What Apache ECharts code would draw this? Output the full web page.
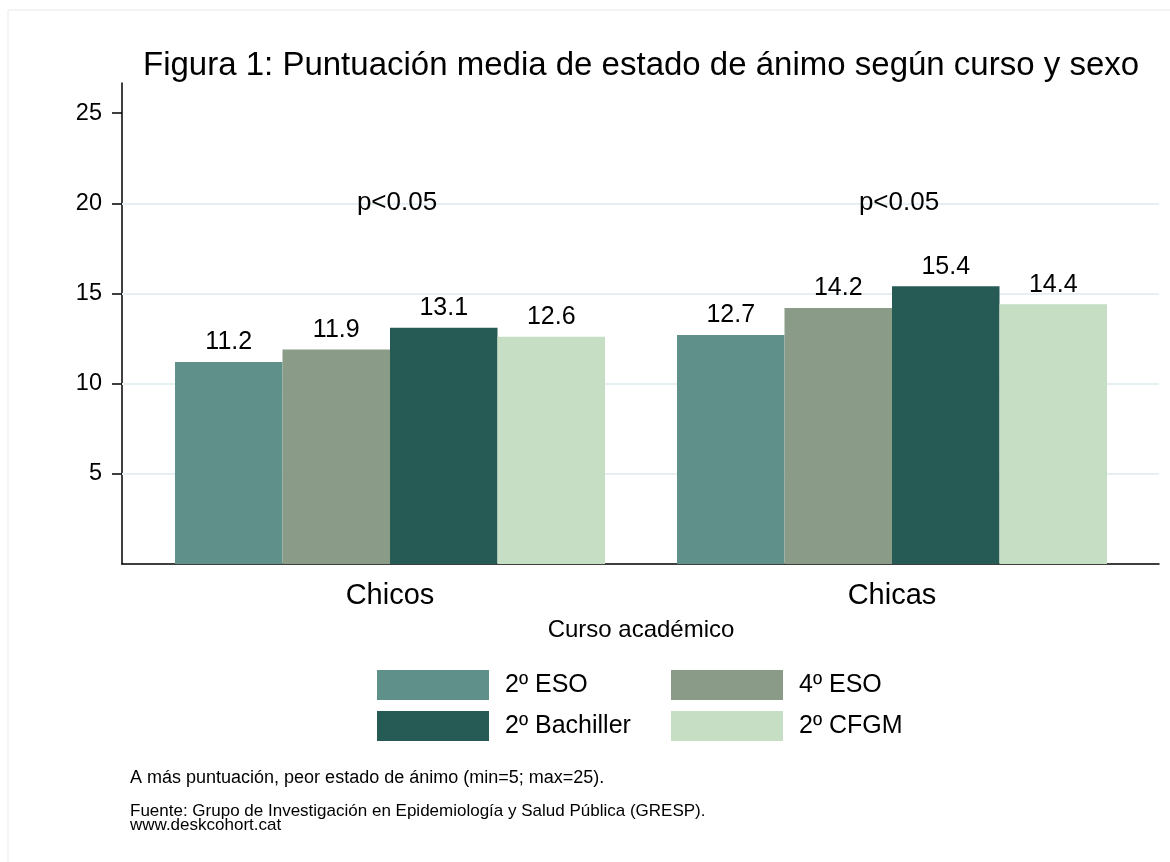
<!DOCTYPE html>
<html>
<head>
<meta charset="utf-8">
<script src="https://cdn.jsdelivr.net/npm/echarts@6/dist/echarts.min.js"></script>
<style>
html,body{margin:0;padding:0;background:#fff;}
#chart{width:1170px;height:862px;}
</style>
</head>
<body>
<div id="chart"></div>
<script>
// ---- data ----
var categories = ['Chicos', 'Chicas'];
var seriesNames = ['2º ESO', '4º ESO', '2º Bachiller', '2º CFGM'];
var eso2 = [11.2, 12.7];
var eso4 = [11.9, 14.2];
var bach2 = [13.1, 15.4];
var cfgm2 = [12.6, 14.4];
var pLabels = ['p<0.05', 'p<0.05'];
var pLevel = 20;
var yTicks = [5, 10, 15, 20, 25];
var gridValues = [5, 10, 15, 20];
var yMax = 26.67;
var titleText = 'Figura 1: Puntuación media de estado de ánimo según curso y sexo';
var xTitle = 'Curso académico';
var note1 = 'A más puntuación, peor estado de ánimo (min=5; max=25).';
var note2 = 'Fuente: Grupo de Investigación en Epidemiología y Salud Pública (GRESP).\nwww.deskcohort.cat';

var colors = ['#5f9089', '#8a9c88', '#265b55', '#c5dec4'];
var FONT = "'Liberation Sans', Arial, sans-serif";

var chart = echarts.init(document.getElementById('chart'), null, {renderer: 'canvas'});

function barSeries(name, data, color) {
  return {
    name: name, type: 'bar', xAxisIndex: 0, yAxisIndex: 0,
    data: data, barGap: '0%', barCategoryGap: '14.34%', z: 3,
    itemStyle: {color: color},
    label: {show: true, position: 'top', distance: 7, fontSize: 25, color: '#000', fontFamily: FONT,
      formatter: function (p) { return p.value.toFixed(1); }},
    emphasis: {disabled: true}
  };
}

var option = {
  animation: false,
  backgroundColor: '#fff',
  textStyle: {fontFamily: FONT},
  title: [
    {text: titleText, left: 138, top: 44, textStyle: {fontSize: 33, fontWeight: 'normal', color: '#000', fontFamily: FONT}},
    {text: note1, left: 130, top: 769, padding: 0, textStyle: {fontSize: 18, fontWeight: 'normal', color: '#000', fontFamily: FONT}},
    {text: note2, left: 130, top: 804, padding: 0, textStyle: {fontSize: 17, lineHeight: 14, fontWeight: 'normal', color: '#000', fontFamily: FONT}}
  ],
  graphic: [
    {type: 'rect', shape: {x: 8, y: 10, width: 1200, height: 900}, style: {fill: 'none', stroke: '#e9e9e9', lineWidth: 1}, silent: true, z: -10}
  ],
  legend: [
    {data: [seriesNames[0], seriesNames[2]], orient: 'vertical', left: 377, top: 670, padding: 0,
      itemWidth: 112, itemHeight: 30, itemGap: 11, icon: 'rect', selectedMode: false,
      textStyle: {fontSize: 25, color: '#000', fontFamily: FONT, padding: [0, 0, 0, 11]}},
    {data: [seriesNames[1], seriesNames[3]], orient: 'vertical', left: 671, top: 670, padding: 0,
      itemWidth: 112, itemHeight: 30, itemGap: 11, icon: 'rect', selectedMode: false,
      textStyle: {fontSize: 25, color: '#000', fontFamily: FONT, padding: [0, 0, 0, 11]}}
  ],
  grid: [
    {left: 139, right: 27, top: 83, bottom: 298, containLabel: false},
    {left: 122, right: 11, top: 83, bottom: 298, containLabel: false}
  ],
  xAxis: [
    {type: 'category', gridIndex: 0, data: categories,
      axisLine: {show: false}, axisTick: {show: false},
      axisLabel: {fontSize: 29, color: '#000', margin: 17, fontFamily: FONT},
      name: xTitle, nameLocation: 'middle', nameGap: 54,
      nameTextStyle: {fontSize: 24, color: '#000', fontFamily: FONT}},
    {type: 'value', gridIndex: 1, min: 0, max: 1,
      axisLine: {show: true, lineStyle: {color: '#000', width: 1.5}},
      axisTick: {show: false}, axisLabel: {show: false}, splitLine: {show: false}}
  ],
  yAxis: [
    {type: 'value', gridIndex: 0, min: 0, max: yMax, show: false, splitLine: {show: false}},
    {type: 'value', gridIndex: 1, min: 0, max: yMax, interval: 5,
      axisLine: {show: true, lineStyle: {color: '#000', width: 1.5}},
      axisTick: {show: true, length: 10, customValues: yTicks, lineStyle: {color: '#000', width: 1.5}},
      axisLabel: {customValues: yTicks, fontSize: 23.5, color: '#000', margin: 20, fontFamily: FONT},
      splitLine: {show: false}}
  ],
  series: [
    {type: 'line', xAxisIndex: 1, yAxisIndex: 1, data: [], z: 1, silent: true,
      markLine: {silent: true, symbol: 'none', animation: false, z: 1,
        label: {show: false},
        lineStyle: {color: '#e6eff1', width: 2, type: 'solid'},
        emphasis: {disabled: true},
        data: gridValues.map(function (v) { return {yAxis: v}; })}},
    barSeries(seriesNames[0], eso2, colors[0]),
    barSeries(seriesNames[1], eso4, colors[1]),
    barSeries(seriesNames[2], bach2, colors[2]),
    barSeries(seriesNames[3], cfgm2, colors[3]),
    {type: 'scatter', xAxisIndex: 0, yAxisIndex: 0, symbolSize: 0, z: 4, silent: true,
      itemStyle: {color: '#000', opacity: 1},
      data: categories.map(function (c, i) { return [i, pLevel]; }),
      label: {show: true, position: 'inside', offset: [7, 0], fontSize: 26, color: '#000', opacity: 1,
        textBorderWidth: 0, textBorderColor: 'transparent', fontFamily: FONT,
        formatter: function (p) { return pLabels[p.dataIndex]; }}}
  ]
};
chart.setOption(option);
</script>
</body>
</html>
